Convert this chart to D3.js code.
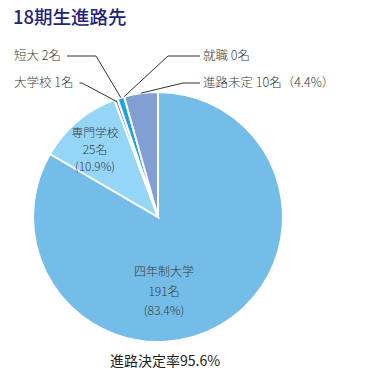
<!DOCTYPE html>
<html>
<head>
<meta charset="utf-8">
<script src="https://cdn.jsdelivr.net/npm/d3@7"></script>
<style>
  body { margin: 0; background: #fff; }
  svg text { font-family: 'Noto Sans CJK JP', 'Noto Sans', sans-serif; }
</style>
</head>
<body>
<div id="chart"></div>
<script>
const categories = ['四年制大学', '専門学校', '大学校', '短大', '就職', '進路未定']
const counts = [191, 25, 1, 2, 0, 10]
const percents = ['83.4%', '10.9%', null, null, null, '4.4%']
const colors = ['#74bde8', '#95d6f6', '#8c8fdc', '#1ea2e2', '#1ea2e2', '#829fd4']
const rate = '95.6%'

const width = 366
const height = 388
const cx = 158
const cy = 217
const radius = 125

const svg = d3.select('#chart').append('svg')
  .attr('width', width)
  .attr('height', height)

svg.append('text')
  .text('18期生進路先')
  .attr('x', 13)
  .attr('y', 24)
  .attr('fill', '#24247a')
  .attr('font-size', '18.5px')
  .attr('font-weight', 500)

const data = categories.map((c, i) => ({ name: c, value: counts[i], pct: percents[i], color: colors[i] }))

const pie = d3.pie().sort(null).value(d => d.value)
const arcs = pie(data)
const arc = d3.arc().innerRadius(0).outerRadius(radius)

const g = svg.append('g').attr('transform', `translate(${cx},${cy})`)

g.selectAll('path')
  .data(arcs.filter(a => a.data.value > 0))
  .join('path')
  .attr('d', arc)
  .attr('fill', d => d.data.color)
  .attr('stroke', '#fff')
  .attr('stroke-width', 2)

// labels inside the two big slices
const inside = [
  { idx: 0, x: 6, y: 59, gap: 19.5, size: 12 },
  { idx: 1, x: -63, y: -80, gap: 17.2, size: 11.8 }
]
inside.forEach(l => {
  const d = data[l.idx]
  const lines = [d.name, d.value + '名', '(' + d.pct + ')']
  g.append('text')
    .attr('text-anchor', 'middle')
    .attr('fill', '#3a3a3a')
    .attr('font-size', l.size + 'px')
    .attr('font-weight', 300)
    .selectAll('tspan')
    .data(lines)
    .join('tspan')
    .attr('x', l.x)
    .attr('y', (t, i) => l.y + i * l.gap)
    .text(t => t)
})

// outside labels with leader lines
const outside = [
  { idx: 2, side: 'left', tx: 14, ty: 87, elbow: 82, r: 0.98 },
  { idx: 3, side: 'left', tx: 14, ty: 60, elbow: 96, r: 1.0 },
  { idx: 4, side: 'right', tx: 203, ty: 60, elbow: 168, r: 1.0 },
  { idx: 5, side: 'right', tx: 203, ty: 87, elbow: 183, r: 1.0 }
]
const lines = svg.append('g')
outside.forEach(o => {
  const a = arcs[o.idx]
  const mid = (a.startAngle + a.endAngle) / 2
  const px = cx + Math.sin(mid) * radius * o.r
  const py = cy - Math.cos(mid) * radius * o.r
  const d = data[o.idx]
  let label = d.name + ' ' + d.value + '名'
  if (d.pct) label += '（' + d.pct + '）'
  const text = svg.append('text')
    .text(label)
    .attr('x', o.tx)
    .attr('y', o.ty)
    .attr('fill', '#3a3a3a')
    .attr('font-size', '12.5px')
    .attr('font-weight', 300)
  const ly = o.ty - 4
  const hx = o.side === 'left'
    ? o.tx + text.node().getComputedTextLength() + 6
    : o.tx - 3
  lines.append('path')
    .attr('d', d3.line()([[hx, ly], [o.elbow, ly], [px, py]]))
    .attr('fill', 'none')
    .attr('stroke', '#333')
    .attr('stroke-width', 1)
})

svg.append('text')
  .text('進路決定率' + rate)
  .attr('x', 110)
  .attr('y', 366)
  .attr('fill', '#222')
  .attr('font-size', '14px')
</script>
</body>
</html>
